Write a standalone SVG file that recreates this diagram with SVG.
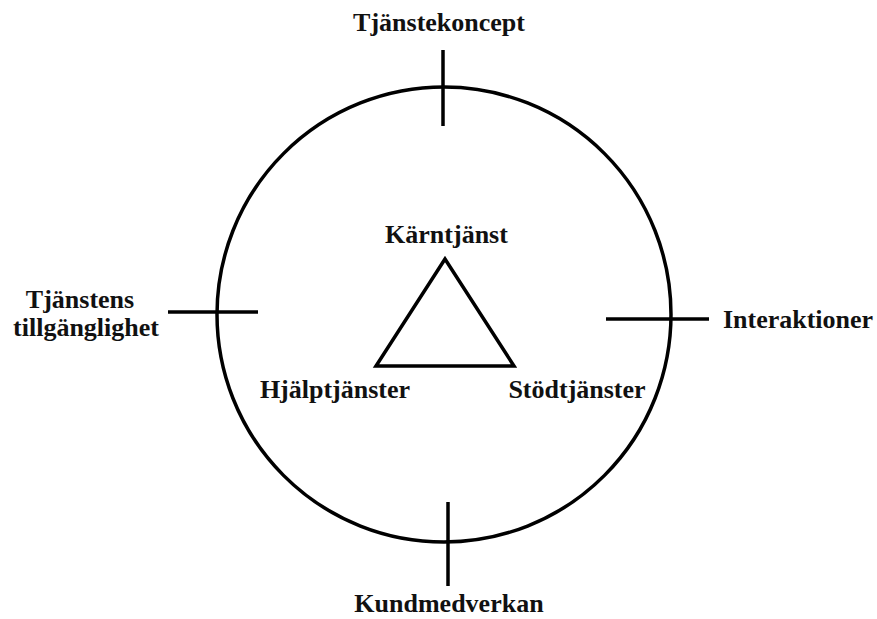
<svg xmlns="http://www.w3.org/2000/svg" width="877" height="619" viewBox="0 0 877 619">
<style>
.s{fill:none;stroke:#000;stroke-width:3.5}
.t{font-family:"Liberation Serif","Times New Roman",serif;font-weight:bold;font-size:26px;fill:#111;text-anchor:middle}
</style>
<rect width="877" height="619" fill="#fff"/>
<g id="circle"><ellipse class="s" cx="444" cy="314.5" rx="227" ry="227.5"/></g>
<g id="connectors">
<line class="s" x1="443" y1="50" x2="443" y2="126"/>
<line class="s" x1="168" y1="312" x2="258" y2="312"/>
<line class="s" x1="606" y1="319" x2="709" y2="319"/>
<line class="s" x1="448" y1="502" x2="448" y2="586"/>
</g>
<g id="triangle"><polygon class="s" stroke-width="3.8" points="445,259 376,366 514,366"/></g>
<g id="n-tjanstekoncept"><text class="t" x="439" y="31">Tjänstekoncept</text></g>
<g id="n-karntjanst"><text class="t" x="446.5" y="243">Kärntjänst</text></g>
<g id="n-hjalptjanster"><text class="t" x="335" y="398">Hjälptjänster</text></g>
<g id="n-stodtjanster"><text class="t" x="577" y="398">Stödtjänster</text></g>
<g id="n-tillganglighet"><text class="t" x="80" y="308">Tjänstens</text><text class="t" x="86" y="336">tillgänglighet</text></g>
<g id="n-interaktioner"><text class="t" x="798" y="328">Interaktioner</text></g>
<g id="n-kundmedverkan"><text class="t" x="449" y="612">Kundmedverkan</text></g>
</svg>
